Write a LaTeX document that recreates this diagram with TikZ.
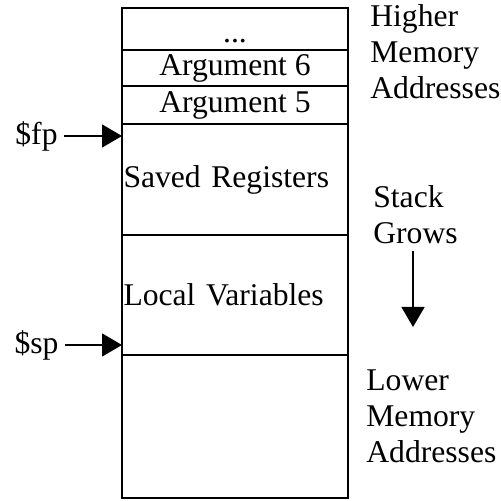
\documentclass[tikz,border=0pt]{standalone}
\usepackage{fontspec}
\setmainfont{Liberation Serif}
\usetikzlibrary{positioning, arrows.meta}

\begin{document}
\begin{tikzpicture}[node distance=0pt, font=\fontsize{18}{20.5}\selectfont,
  cell/.style={draw, line width=0.8pt, minimum width=4.52cm, outer sep=0pt, inner sep=0pt, text height=12.6pt, text depth=3.6pt},
  wide/.style={cell, text width=4.46cm, align=left, text height=, text depth=},
  side/.style={align=left, anchor=west, inner sep=0pt},
  ptr/.style={-{Triangle[length=0.4cm, width=0.46cm]}, line width=0.8pt}]
\useasboundingbox (0,0) rectangle (10.02,10.02);
% stack frame
\node[cell, minimum height=0.84cm, anchor=north west, text height=15pt, text depth=0pt] (dots) at (2.44,9.86) {...};
\node[cell, below=of dots, minimum height=0.72cm] (arg6) {Argument 6};
\node[cell, below=of arg6, minimum height=0.76cm] (arg5) {Argument 5};
\node[wide, below=of arg5, minimum height=2.22cm] (sav) {Saved Registers};
\node[wide, below=of sav, minimum height=2.40cm] (loc) {Local Variables};
\node[cell, below=of loc, minimum height=2.86cm] (free) {};
% pointers
\node (fp) at (0.73,7.30) {\$fp};
\node (sp) at (0.73,3.12) {\$sp};
\draw[ptr] (fp) -- (fp -| sav.west);
\draw[ptr] (sp) -- (sp -| loc.west);
% labels on the right
\node[side] (higher) at (7.40,8.98) {Higher\\Memory\\Addresses};
\node[side] (grows) at (7.46,5.72) {Stack\\Grows};
\node[side] (lower) at (7.32,1.70) {Lower\\Memory\\Addresses};
\coordinate (growend) at (8.26,3.48);
\draw[ptr, shorten <=0.13cm] (grows.south -| growend) -- (growend);
\end{tikzpicture}
\end{document}
